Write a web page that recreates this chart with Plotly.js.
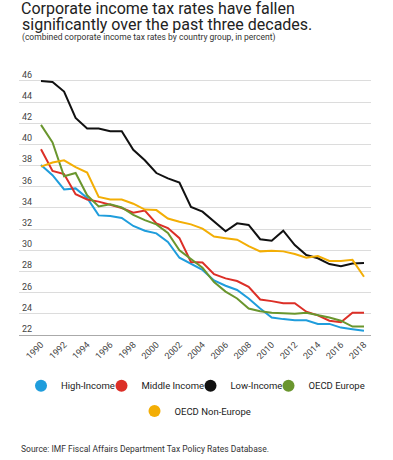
<!DOCTYPE html>
<html>
<head>
<meta charset="utf-8">
<script src="https://cdn.plot.ly/plotly-3.0.1.min.js"></script>
<style>html,body{margin:0;padding:0;background:#fff;}#chart{width:393px;height:460px;}</style>
</head>
<body>
<div id="chart"></div>
<script>
const years = [1990,1991,1992,1993,1994,1995,1996,1997,1998,1999,2000,2001,2002,2003,2004,2005,2006,2007,2008,2009,2010,2011,2012,2013,2014,2015,2016,2017,2018];
const highIncome = [38.05,37.1,35.75,35.85,34.95,33.3,33.25,33.05,32.3,31.85,31.6,30.8,29.3,28.75,28.15,27.15,26.65,26.25,25.45,24.5,23.65,23.5,23.4,23.4,23.05,23.05,22.7,22.55,22.4];
const middleIncome = [39.55,37.5,37.2,35.3,34.8,34.6,34.3,34.0,33.55,33.75,32.55,32.1,31.15,28.9,28.85,27.75,27.35,27.1,26.55,25.35,25.2,25.0,25.0,24.2,23.85,23.35,23.2,24.1,24.1];
const lowIncome = [46.0,45.9,45.0,42.5,41.5,41.5,41.25,41.25,39.5,38.5,37.3,36.8,36.4,34.1,33.65,32.7,31.8,32.55,32.4,31.05,30.9,31.85,30.5,29.55,29.25,28.7,28.5,28.75,28.8];
const oecdEurope = [41.85,40.2,37.0,37.3,35.2,34.15,34.35,34.05,33.35,32.85,32.45,31.65,30.0,29.2,28.35,27.0,26.1,25.45,24.5,24.25,24.1,24.05,24.0,24.1,23.9,23.65,23.35,22.8,22.8];
const oecdNonEurope = [37.9,38.3,38.5,37.85,37.35,35.05,34.8,34.8,34.4,33.85,33.8,33.0,32.7,32.45,32.05,31.3,31.15,31.0,30.4,29.9,29.95,29.9,29.65,29.3,29.45,29.0,29.0,29.1,27.5];

const seriesNames = ['High-Income','Middle Income','Low-Income','OECD Europe','OECD Non-Europe'];
const seriesValues = [highIncome, middleIncome, lowIncome, oecdEurope, oecdNonEurope];
const colors = ['#1f9ddc','#dc2f27','#111111','#6a962e','#f3ae05'];
const titleLines = ['Corporate income tax rates have fallen', 'significantly over the past three decades.'];
const subtitleText = '(combined corporate income tax rates by country group, in percent)';
const sourceText = 'Source: IMF Fiscal Affairs Department Tax Policy Rates Database.';
const legendIds = ['legend','legend2','legend3','legend4','legend5'];
const legendLeft = [21, 101.5, 190.5, 268.5, 134.5];
const legendRowY = [385.7, 385.7, 385.7, 385.7, 411];

const W = 393, H = 460;
const plotL = 19, plotR = 371, plotT = 64, plotB = 335;
const traces = [];
seriesValues.forEach((vals, i) => {
  traces.push({
    x: years, y: vals, type: 'scatter', mode: 'lines', name: seriesNames[i],
    line: {color: colors[i], width: 2}, showlegend: false, hoverinfo: 'skip'
  });
});
seriesNames.forEach((nm, i) => {
  traces.push({
    x: [null], y: [null], type: 'scatter', mode: 'markers', name: nm,
    marker: {color: colors[i], size: 12}, showlegend: true, legend: legendIds[i]
  });
});

const font = 'Roboto, "Open Sans", sans-serif';
const px2paperX = px => (px - plotL) / (plotR - plotL);
const px2paperY = py => (plotB - py) / (plotB - plotT);
const layout = {
  width: W, height: H, autosize: false,
  paper_bgcolor: '#fff', plot_bgcolor: '#fff',
  font: {family: font, color: '#333', size: 9},
  margin: {l: plotL, r: W - plotR, t: plotT, b: H - plotB, pad: 0},
  title: {
    text: titleLines[0],
    font: {family: font, size: 16, color: '#222'},
    x: 21 / W, xanchor: 'left', xref: 'container',
    y: 1 - 8 / H, yanchor: 'middle', yref: 'container', pad: {t: 0, b: 0, l: 0, r: 0}
  },
  xaxis: {
    range: [1988.093, 2018.607], tick0: 1990, dtick: 2, tickangle: -45,
    showgrid: false, zeroline: false, showline: true, linecolor: '#aaaaaa', linewidth: 1,
    ticks: '', tickfont: {family: font, size: 9, color: '#444'}, fixedrange: true
  },
  yaxis: {
    range: [22, 47.6], tick0: 22, dtick: 2, showgrid: true, gridcolor: '#dcdcdc', gridwidth: 1,
    zeroline: false, showline: false, ticks: '', ticklabelposition: 'inside top',
    tickfont: {family: font, size: 9, color: '#444'}, fixedrange: true
  },
  annotations: [
    {text: titleLines[1],
     xref: 'paper', yref: 'paper', x: px2paperX(21), y: px2paperY(25),
     xanchor: 'left', yanchor: 'middle', showarrow: false, borderpad: 0,
     font: {family: font, size: 16, color: '#222'}},
    {text: subtitleText,
     xref: 'paper', yref: 'paper', x: px2paperX(21), y: px2paperY(37.5),
     xanchor: 'left', yanchor: 'middle', showarrow: false, borderpad: 0,
     font: {family: font, size: 8.5, color: '#333'}},
    {text: sourceText,
     xref: 'paper', yref: 'paper', x: px2paperX(20), y: px2paperY(449),
     xanchor: 'left', yanchor: 'middle', showarrow: false, borderpad: 0,
     font: {family: font, size: 8.5, color: '#333'}}
  ]
};
legendIds.forEach((id, i) => {
  layout[id] = {
    xref: 'container', yref: 'container',
    x: legendLeft[i] / W, y: 1 - legendRowY[i] / H,
    xanchor: 'left', yanchor: 'middle', orientation: 'h',
    bgcolor: 'rgba(0,0,0,0)', borderwidth: 0,
    font: {family: font, size: 9.5, color: '#222'}, itemwidth: 30
  };
});

Plotly.newPlot('chart', traces, layout, {displayModeBar: false, staticPlot: true});
</script>
</body>
</html>
